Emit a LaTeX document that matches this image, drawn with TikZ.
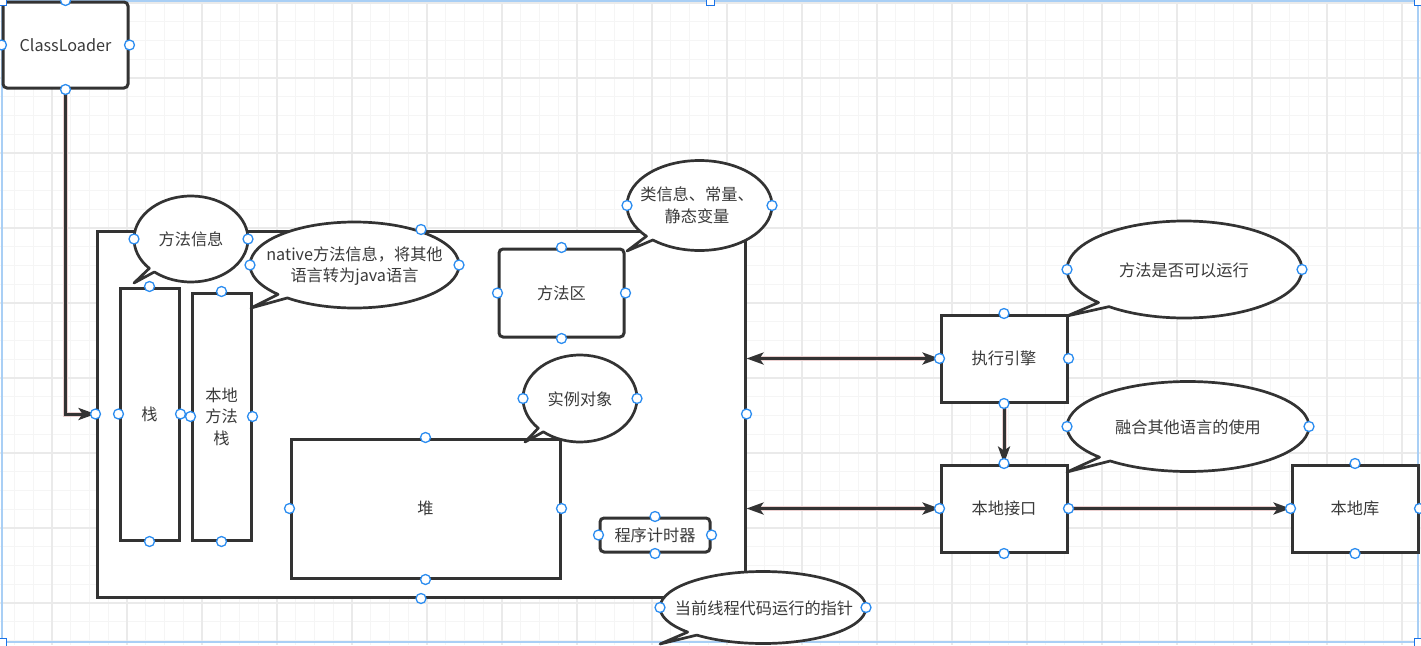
\documentclass[tikz,border=0pt]{standalone}
\usepackage{fontspec}
\setmainfont{Noto Sans CJK SC}
\usetikzlibrary{arrows.meta}
\definecolor{linec}{HTML}{333333}
\definecolor{txtc}{HTML}{3A3A3A}
\definecolor{handle}{HTML}{2C8DF0}
\definecolor{gridminor}{HTML}{F5F5F5}
\definecolor{gridmajor}{HTML}{EAEAEA}
\definecolor{selblue}{HTML}{A9CFF5}
\definecolor{selcorner}{HTML}{1A73E8}
\definecolor{halo}{HTML}{EBD0D0}
\newcommand{\callbubble}[6]{%
  \draw[bubbleline] ({#1+#3*cos(137)},{#2+#4*sin(137)})
    arc[start angle=137,end angle=490,x radius=#3,y radius=#4] -- (#5,#6) -- cycle;}
\newcommand{\hdl}[1]{\filldraw[handlestyle] (#1) circle[radius=5pt];}
\tikzset{
  every node/.style={font=\fontsize{16.2}{21.5}\selectfont, text=txtc},
  box/.style={draw=linec, line width=3pt, fill=white, inner sep=0pt, align=center},
  rbox/.style={box, rounded corners=4pt},
  bubbleline/.style={draw=linec, line width=2.7pt, fill=white, line join=round},
  btext/.style={inner sep=0pt, align=center},
  handlestyle/.style={draw=handle, fill=white, line width=1.3pt},
  conn/.style={draw=linec, line width=3pt, -{Stealth[length=17pt,width=12pt,inset=4pt]},
    preaction={draw=halo, line width=5pt, arrows=-, shorten >=14pt}},
  conntwo/.style={draw=linec, line width=3pt, {Stealth[length=17pt,width=12pt,inset=4pt]}-{Stealth[length=17pt,width=12pt,inset=4pt]},
    preaction={draw=halo, line width=5pt, arrows=-, shorten >=14pt, shorten <=14pt}},
  minorg/.style={draw=gridminor, line width=1pt},
  majorg/.style={draw=gridmajor, line width=1.2pt},
}
\begin{document}
\begin{tikzpicture}[x=1pt,y=-1pt]
\useasboundingbox (0,0) rectangle (1421,645);
\fill[white] (0,0) rectangle (1421,645);
% grid
\foreach \i in {-2,...,73} {\draw[minorg] ({52+18.75*\i},0) -- ({52+18.75*\i},645);}
\foreach \i in {0,...,34} {\draw[minorg] (0,{3+18.75*\i}) -- (1421,{3+18.75*\i});}
\foreach \i in {-1,...,18} {\draw[majorg] ({52+75*\i},0) -- ({52+75*\i},645);}
\foreach \i in {0,...,8} {\draw[majorg] (0,{3+75*\i}) -- (1421,{3+75*\i});}
% selection frame
\draw[selblue, line width=2pt] (2,1) rectangle (1418,642);

% boxes
\node[rbox, minimum width=125pt, minimum height=86pt] (cl) at (65.5,45) {ClassLoader};
\node[box, minimum width=648pt, minimum height=366pt] (jvm) at (421,414) {};
\node[box, minimum width=59pt, minimum height=252pt] (stk) at (149.5,414) {栈};
\node[box, minimum width=59pt, minimum height=247pt] (nstk) at (221.5,416.5) {本地\\方法\\栈};
\node[box, minimum width=269pt, minimum height=139pt] (heap) at (425.5,508.5) {堆};
\node[rbox, minimum width=125pt, minimum height=88pt] (mth) at (561.5,293) {方法区};
\node[rbox, minimum width=110pt, minimum height=34pt] (pc) at (655,535) {程序计时器};
\node[box, minimum width=126pt, minimum height=87pt] (exe) at (1004,358.5) {执行引擎};
\node[box, minimum width=126pt, minimum height=87pt] (ni) at (1004,508.5) {本地接口};
\node[box, minimum width=126pt, minimum height=87pt] (nl) at (1355,508.5) {本地库};

% callouts
\callbubble{191}{239}{57}{43}{134}{283}
\node[btext] (b1) at (191,239) {方法信息};
\callbubble{354.5}{265}{104.5}{43}{251}{308}
\node[btext] (b2) at (354.5,266) {native方法信息，将其他\\语言转为java语言};
\callbubble{699.5}{205.5}{72.5}{45}{627}{251}
\node[btext] (b3) at (697,205.5) {类信息、常量、\\静态变量};
\callbubble{580}{398.5}{57}{43.5}{525}{442}
\node[btext] (b4) at (580,399) {实例对象};
\callbubble{1184.5}{269.5}{117.5}{48.5}{1067}{316}
\node[btext] (b5) at (1184,270) {方法是否可以运行};
\callbubble{1188}{426.5}{121}{45}{1067}{472}
\node[btext] (b6) at (1188,427) {融合其他语言的使用};
\callbubble{763}{607.5}{103}{36}{660}{644}
\node[btext] (b7) at (764,608) {当前线程代码运行的指针};

% connectors
\draw[conn] (cl.south) |- (jvm.west);
\draw[conntwo] (exe.west) -- (exe.west -| jvm.east);
\draw[conntwo] (ni.west) -- (ni.west -| jvm.east);
\draw[conn] (exe.south) -- (ni.north);
\draw[conn] (ni.east) -- (nl.west);

% handles
\foreach \n in {cl,jvm,stk,nstk,heap,mth,pc,exe,ni,nl} {
  \foreach \a in {north,south,east,west} {\hdl{\n.\a}}}
\foreach \p in {{134,239},{248,239},{250,265},{459,265},{627,205.5},{772,205.5},
  {523,398.5},{637,398.5},{1067,269.5},{1302,269.5},{1067,426.5},{1309,426.5},
  {660,607.5},{866,607.5}} {\hdl{\p}}

% selection corners
\foreach \p in {{2,1},{1418,1},{2,642},{1418,642},{710,1}} {
  \draw[selcorner, fill=white, line width=1pt] ([shift={(-4,-4)}]\p) rectangle ([shift={(4,4)}]\p);}
\end{tikzpicture}
\end{document}
